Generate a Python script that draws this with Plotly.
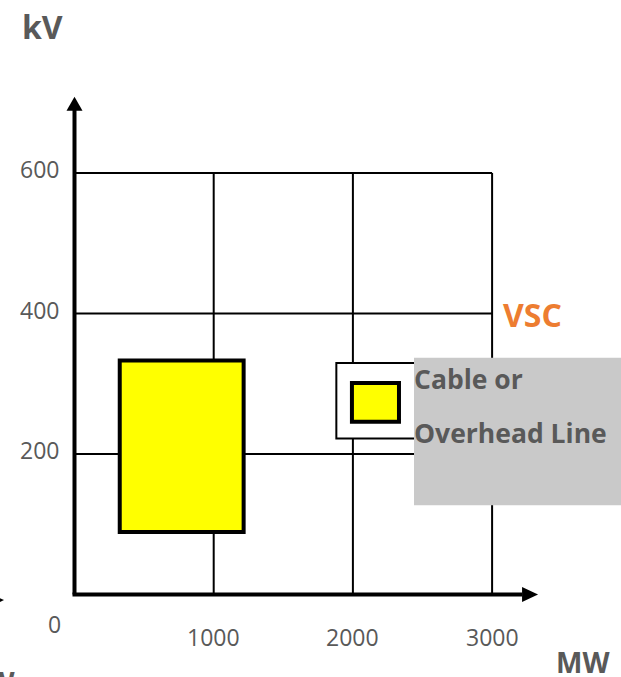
import plotly.graph_objects as go

# ---- data ----
x_ticks = [1000, 2000, 3000]
x_tick_labels = ["1000", "2000", "3000"]
y_ticks = [200, 400, 600]
y_tick_labels = ["200", "400", "600"]

# large range rectangle (MW, kV)
big_x = [325, 1215]
big_y = [89, 333]
# VSC small rectangle
small_x = [1993, 2331]
small_y = [246, 301]
# white frame around VSC box
frame_x = [1881, 2600]
frame_y = [222, 329.5]
# grey label box
label_x = [2439, 4000]
label_y = [127, 337]

grid_max_x = 3000
grid_max_y = 600
axis_tip_x = 3330
axis_tip_y = 708.6

# pixel mapping helpers (figure is 621x677, no margins)
W, H = 621, 677
X0PX, XS = 74.5, 0.1392
Y0PX, YS = 594.5, 0.7025
xr = [-X0PX / XS, (W - X0PX) / XS]
yr = [(Y0PX - H) / YS, Y0PX / YS]

def px2x(px):
    return (px - X0PX) / XS

def py2y(py):
    return (Y0PX - py) / YS

TXT = "#595959"
FONT = "Open Sans"

fig = go.Figure()
fig.add_trace(go.Scatter(x=[None], y=[None], showlegend=False))

shapes = []
# grid lines
for gx in x_ticks:
    shapes.append(dict(type="line", x0=gx, x1=gx, y0=0, y1=grid_max_y,
                       line=dict(color="black", width=2)))
for gy in y_ticks:
    shapes.append(dict(type="line", x0=0, x1=grid_max_x, y0=gy, y1=gy,
                       line=dict(color="black", width=2)))

# axes with arrowheads
ah_len_x = 16 / XS
ah_half_x = 7.5 / YS
ah_len_y = 14 / YS
ah_half_y = 8 / XS
shapes.append(dict(type="line", x0=0, x1=0, y0=0, y1=axis_tip_y - ah_len_y + 1,
                   line=dict(color="black", width=4)))
shapes.append(dict(type="path",
                   path=f"M {-ah_half_y},{axis_tip_y - ah_len_y} L {ah_half_y},{axis_tip_y - ah_len_y} L 0,{axis_tip_y} Z",
                   fillcolor="black", line=dict(width=0)))
shapes.append(dict(type="line", x0=0 - 2 / XS, x1=axis_tip_x - ah_len_x + 1, y0=0, y1=0,
                   line=dict(color="black", width=4)))
shapes.append(dict(type="path",
                   path=f"M {axis_tip_x - ah_len_x},{-ah_half_x} L {axis_tip_x - ah_len_x},{ah_half_x} L {axis_tip_x},0 Z",
                   fillcolor="black", line=dict(width=0)))

# neighbouring chart's arrow tip at the left edge
lt = px2x(4)
shapes.append(dict(type="path",
                   path=f"M {lt - ah_len_x},{py2y(600) - ah_half_x} L {lt - ah_len_x},{py2y(600) + ah_half_x} L {lt},{py2y(600)} Z",
                   fillcolor="black", line=dict(width=0)))

# rectangles
shapes.append(dict(type="rect", x0=big_x[0], x1=big_x[1], y0=big_y[0], y1=big_y[1],
                   fillcolor="#FFFF00", line=dict(color="black", width=4)))
shapes.append(dict(type="rect", x0=frame_x[0], x1=frame_x[1], y0=frame_y[0], y1=frame_y[1],
                   fillcolor="white", line=dict(color="black", width=2)))
shapes.append(dict(type="rect", x0=small_x[0], x1=small_x[1], y0=small_y[0], y1=small_y[1],
                   fillcolor="#FFFF00", line=dict(color="black", width=4)))
shapes.append(dict(type="rect", x0=label_x[0], x1=label_x[1], y0=label_y[0], y1=label_y[1],
                   fillcolor="#C9C9C9", line=dict(width=0)))

ann = []
# tick labels
for v, t in zip(x_ticks, x_tick_labels):
    ann.append(dict(x=v, y=py2y(637), text=t, showarrow=False, xanchor="center", yanchor="middle",
                    font=dict(family=FONT, size=23, color=TXT)))
for v, t in zip(y_ticks, y_tick_labels):
    ann.append(dict(x=px2x(61), y=v + 4 / YS, text=t, showarrow=False, xanchor="right", yanchor="middle",
                    font=dict(family=FONT, size=23, color=TXT)))
ann.append(dict(x=px2x(54), y=py2y(624), text="0", showarrow=False, xanchor="center", yanchor="middle",
                font=dict(family=FONT, size=23, color=TXT)))

# labels
ann.append(dict(x=px2x(412), y=py2y(379), text="<b>Cable or</b>", showarrow=False, xanchor="left",
                yanchor="middle", font=dict(family=FONT, size=26.5, color=TXT)))
ann.append(dict(x=px2x(412), y=py2y(433), text="<b>Overhead Line</b>", showarrow=False, xanchor="left",
                yanchor="middle", font=dict(family=FONT, size=26.5, color=TXT)))
ann.append(dict(x=px2x(501), y=py2y(314), text="<b>VSC</b>", showarrow=False, xanchor="left",
                yanchor="middle", font=dict(family=FONT, size=32, color="#ED7D31")))
ann.append(dict(x=px2x(20), y=py2y(26), text="<b>kV</b>", showarrow=False, xanchor="left",
                yanchor="middle", font=dict(family=FONT, size=32, color=TXT)))
ann.append(dict(x=px2x(554), y=py2y(662), text="<b>MW</b>", showarrow=False, xanchor="left",
                yanchor="middle", font=dict(family=FONT, size=28, color=TXT)))
# neighbouring chart's axis label, cut off at the left/bottom edge (paper coords)
ann.append(dict(x=17 / W, y=1 - 682 / H, xref="paper", yref="paper", text="<b>MW</b>",
                showarrow=False, xanchor="right", yanchor="middle",
                font=dict(family=FONT, size=28, color=TXT)))

fig.update_layout(
    width=W, height=H,
    margin=dict(l=0, r=0, t=0, b=0),
    paper_bgcolor="white", plot_bgcolor="white",
    xaxis=dict(range=xr, visible=False, fixedrange=True),
    yaxis=dict(range=yr, visible=False, fixedrange=True),
    shapes=shapes, annotations=ann, showlegend=False,
)
fig.write_html("out.html", config={"displayModeBar": False},
               post_script="document.body.style.margin='0';document.body.style.overflow='hidden';")
